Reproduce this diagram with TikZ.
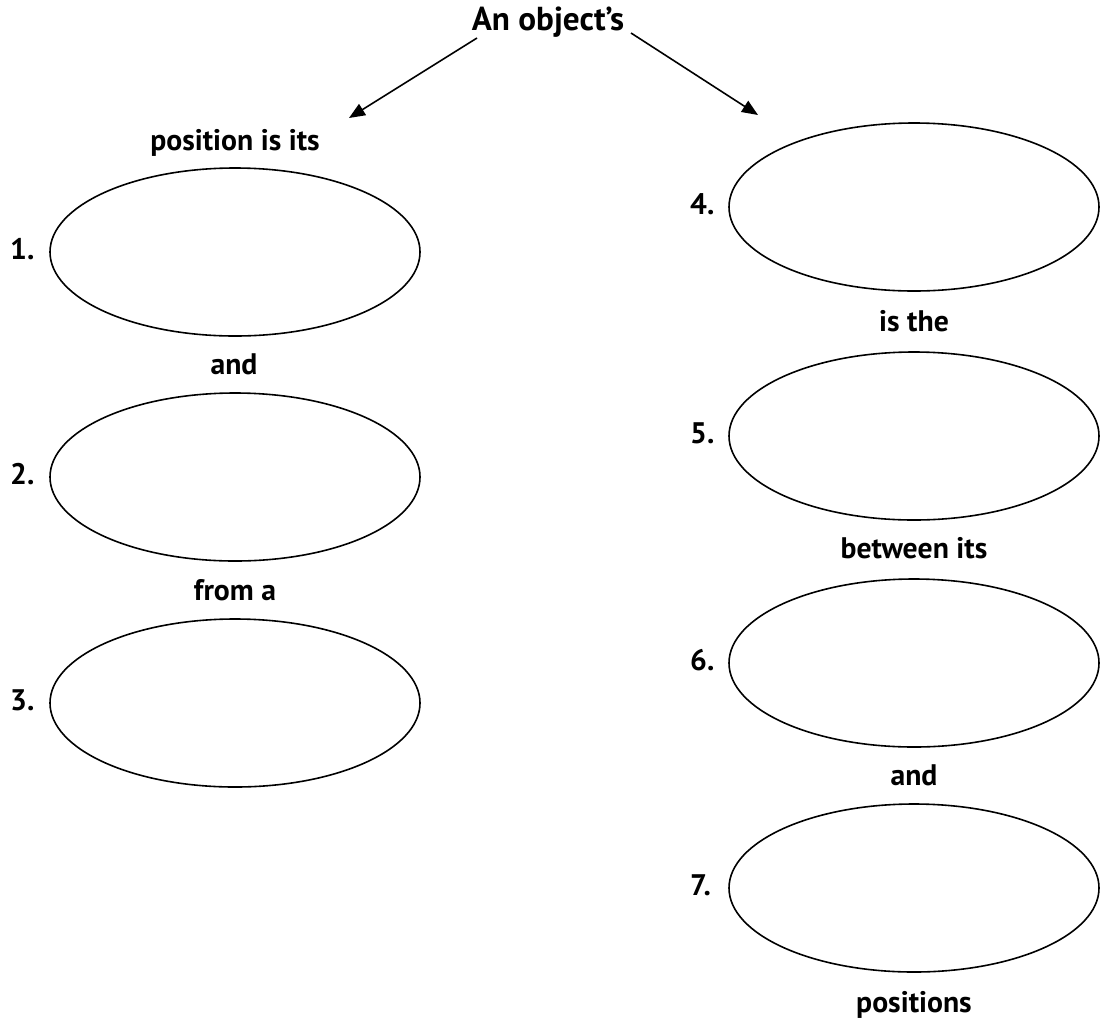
\documentclass[tikz,border=0pt]{standalone}
\usepackage{fontspec}
\setmainfont{PT Sans}
\usetikzlibrary{shapes.geometric,arrows.meta}
\tikzset{
  bolla/.style={ellipse, draw, line width=1.6pt, minimum width=370pt, minimum height=168pt, inner sep=0pt},
  parola/.style={font=\bfseries\fontsize{29.7}{33}\selectfont, anchor=base, inner sep=0pt},
  numero/.style={font=\bfseries\fontsize{29.7}{33}\selectfont, anchor=base west, inner sep=0pt},
  freccia/.style={line width=1.6pt, -{Triangle[length=16pt,width=13pt]}}
}
\begin{document}
\begin{tikzpicture}[x=1pt,y=-1pt]
    \useasboundingbox (0,0) rectangle (1102,1021);

    % Titolo
    \node[parola, font=\bfseries\fontsize{33.2}{36}\selectfont] (titolo) at (548,30) {An object’s};
    \coordinate (sx) at (349,118);
    \coordinate (dx) at (758,115);
    \coordinate (psx) at (477,38);
    \coordinate (pdx) at (631,33);

    % Ellissi
    \foreach \n/\y in {1/252,2/477,3/703} {
            \node[bolla] (e\n) at (235,\y) {};
            \node[numero] (n\n) at (10,\y+7) {\n.};
        }
    \foreach \n/\y in {4/207,5/436,6/663,7/888} {
            \node[bolla] (e\n) at (914,\y) {};
            \node[numero] (n\n) at (690,\y+7) {\n.};
        }

    % Parole
    \node[parola] (pos) at (235,150) {position is its};
    \node[parola] (and1) at (234,374) {and};
    \node[parola] (froma) at (235,600) {from a};
    \node[parola] (isthe) at (914,331) {is the};
    \node[parola] (between) at (914,558) {between its};
    \node[parola] (and2) at (914,785) {and};
    \node[parola] (positions) at (914,1012) {positions};

    % Frecce
    \draw[freccia] (psx) -- (sx);
    \draw[freccia] (pdx) -- (dx);
\end{tikzpicture}
\end{document}
